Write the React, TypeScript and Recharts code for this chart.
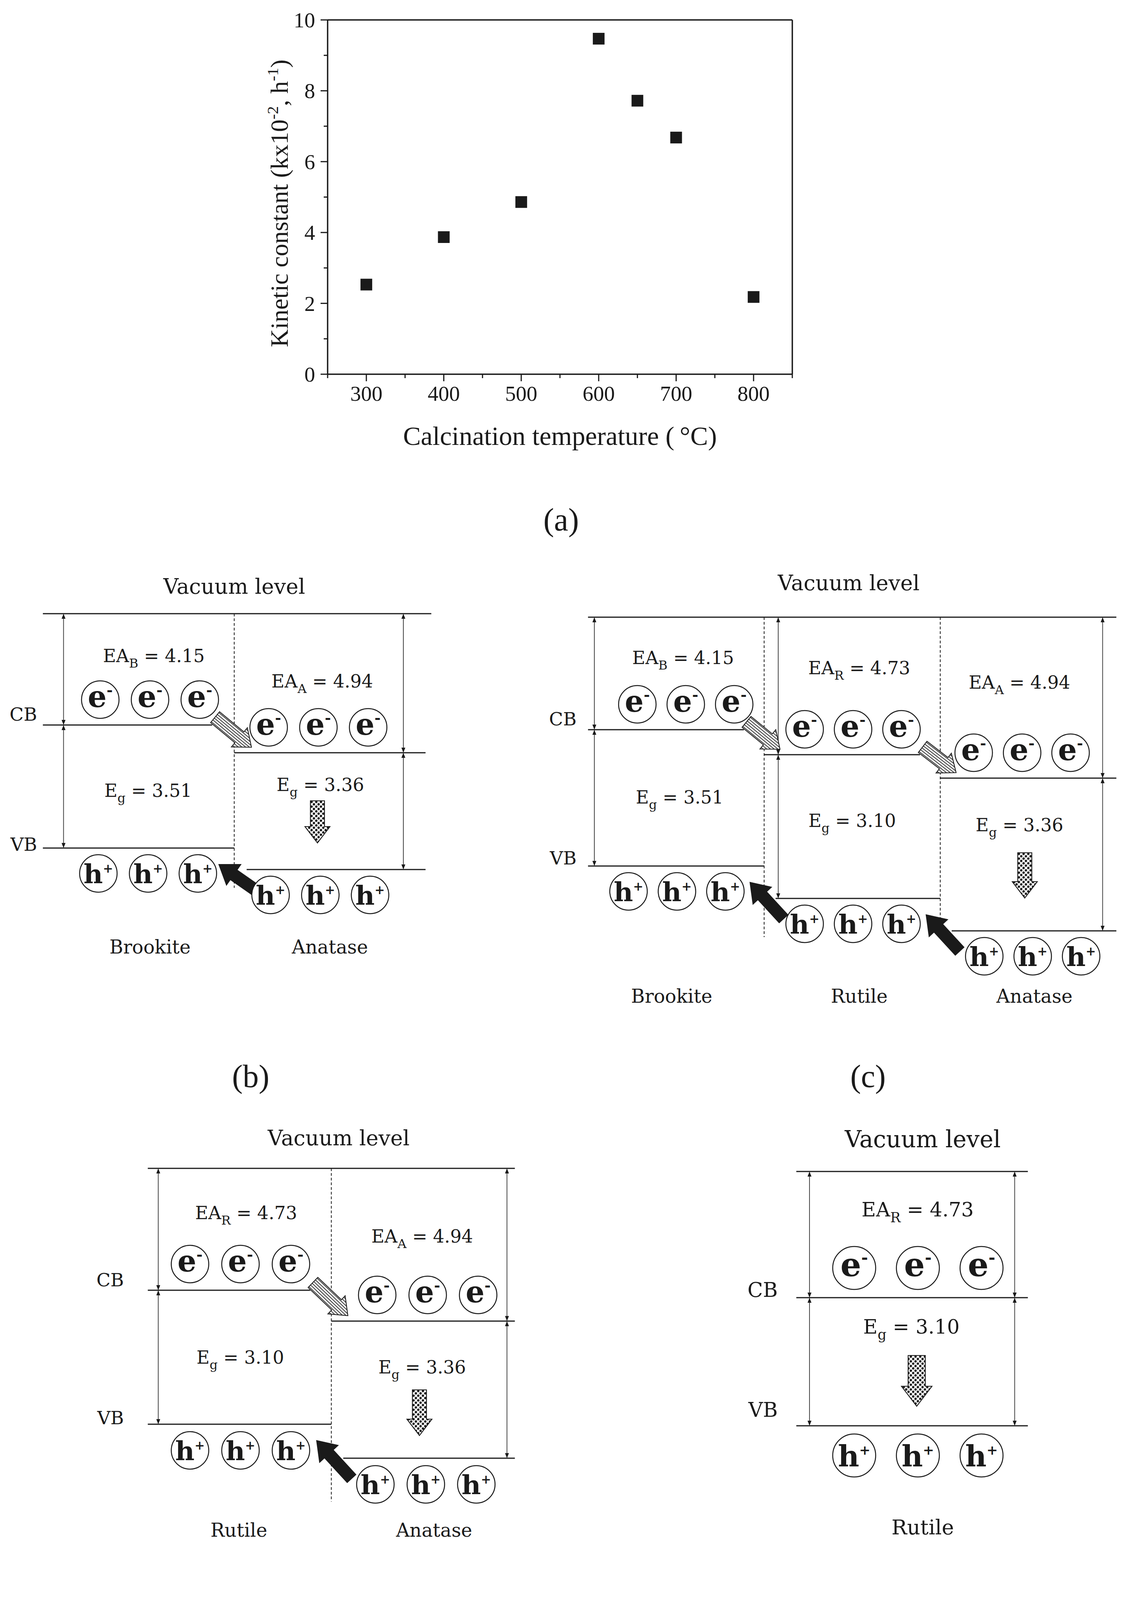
import React from "react";
import {
  ComposedChart,
  ScatterChart,
  Scatter,
  XAxis,
  YAxis,
  ReferenceLine,
  Label,
} from "recharts";

const INK = "#1a1a1a";
const SERIF_A = '"Liberation Serif", "Times New Roman", serif';
const SERIF_B = '"DejaVu Serif", "Liberation Serif", serif';

// ---------- (a) kinetic constant vs calcination temperature ----------
const temperatures = [300, 400, 500, 600, 650, 700, 800];
const kineticConstants = [2.53, 3.87, 4.86, 9.47, 7.72, 6.68, 2.18];
const temperatureTicks = [250, 300, 350, 400, 450, 500, 550, 600, 650, 700, 750, 800, 850];
const temperatureLabels = [300, 400, 500, 600, 700, 800];
const kineticTicks = [0, 1, 2, 3, 4, 5, 6, 7, 8, 9, 10];
const kineticLabels = [0, 2, 4, 6, 8, 10];

// ---------- (b)-(e) band diagrams ----------
const phaseNames = ["Brookite", "Rutile", "Anatase"];
const phaseSubscripts = ["B", "R", "A"];
const electronAffinities = [4.15, 4.73, 4.94]; // eV
const bandGaps = [3.51, 3.1, 3.36]; // eV
const carriersPerBand = 3;

// phases shown in each panel, left to right
const phasesB = [0, 2];
const phasesC = [0, 1, 2];
const phasesD = [1, 2];
const phasesE = [1];

// drawn depth of the band edges below the vacuum level (schematic)
const cbDepthB = [2.85, 3.56];
const vbDepthB = [6.0, 6.55];
const cbDepthC = [2.88, 3.52, 4.12];
const vbDepthC = [6.37, 7.2, 8.03];
const cbDepthD = [3.12, 3.91];
const vbDepthD = [6.55, 7.42];
const cbDepthE = [3.23];
const vbDepthE = [6.51];

// ---------- layout (kept apart from the data) ----------
const Y_MIN = -1.3;
const Y_MAX = 12.5;
const UNIT_PX = 100;

const layoutB = {
  vacX: 110, vacY: 1571, colW: 490, xMin: -0.22, xMax: 2.15, vacEnd: 2.03,
  sideX: -0.03, cbLabelDy: -0.28, vbLabelDy: -0.1,
  titleX: 1.0, titleY: -0.7, tagX: 1.086, tagY: 11.91,
  phaseX: [0.56, 0.5], phaseBase: 8.7,
  dividers: [{ x: 1, bottom: 7.02 }],
  arrowsX: [{ col: 0, x: 0.108 }, { col: 1, x: 1.884 }],
  spacing: 0.26, carrierGap: 0.65, radius: 48, scale: 1, downScale: 1,
  cols: [
    { eaX: 0.58, eaBase: 1.24, egX: 0.55, egBase: 4.69, e0: 0.3, h0: 0.29 },
    { eaX: 0.46, eaBase: 1.89, egX: 0.45, egBase: 4.54, e0: 0.18, h0: 0.19, down: { x: 0.435, top: 4.79, bottom: 5.87 } },
  ],
};

const layoutC = {
  vacX: 1506, vacY: 1580, colW: 451, xMin: -0.35, xMax: 3.08, vacEnd: 3.0,
  sideX: -0.065, cbLabelDy: -0.28, vbLabelDy: -0.21,
  titleX: 1.48, titleY: -0.88, tagX: 1.59, tagY: 11.82,
  phaseX: [0.475, 0.54, 0.535], phaseBase: 9.87,
  dividers: [{ x: 1, bottom: 8.19 }, { x: 2, bottom: 7.82 }],
  arrowsX: [{ col: 0, x: 0.036 }, { col: 1, x: 1.08 }, { col: 2, x: 2.922 }],
  spacing: 0.275, carrierGap: 0.65, radius: 48, scale: 1, downScale: 1,
  cols: [
    { eaX: 0.54, eaBase: 1.2, egX: 0.52, egBase: 4.77, e0: 0.28, h0: 0.23 },
    { eaX: 0.54, eaBase: 1.46, egX: 0.5, egBase: 5.37, e0: 0.23, h0: 0.23 },
    { eaX: 0.45, eaBase: 1.83, egX: 0.45, egBase: 5.48, e0: 0.19, h0: 0.25, down: { x: 0.48, top: 6.03, bottom: 7.19 } },
  ],
};

const layoutD = {
  vacX: 378, vacY: 2991, colW: 470, xMin: -0.35, xMax: 2.1, vacEnd: 2.0,
  sideX: -0.13, cbLabelDy: -0.27, vbLabelDy: -0.17,
  titleX: 1.04, titleY: -0.78, tagX: 0.968, tagY: 11.82,
  phaseX: [0.496, 0.56], phaseBase: 9.43,
  dividers: [{ x: 1, bottom: 8.53 }],
  arrowsX: [{ col: 0, x: 0.057 }, { col: 1, x: 1.957 }],
  spacing: 0.275, carrierGap: 0.67, radius: 48, scale: 1, downScale: 1,
  cols: [
    { eaX: 0.536, eaBase: 1.3, egX: 0.504, egBase: 5.0, e0: 0.23, h0: 0.23 },
    { eaX: 0.495, eaBase: 1.9, egX: 0.495, egBase: 5.25, e0: 0.25, h0: 0.24, down: { x: 0.48, top: 5.67, bottom: 6.84 } },
  ],
};

const layoutE = {
  vacX: 2039, vacY: 2999, colW: 593, xMin: -0.25, xMax: 1.1, vacEnd: 1.0,
  sideX: -0.08, cbLabelDy: -0.21, vbLabelDy: -0.42,
  titleX: 0.546, titleY: -0.83, tagX: 0.545, tagY: 11.85,
  phaseX: [0.546], phaseBase: 9.29,
  dividers: [],
  arrowsX: [{ col: 0, x: 0.057 }, { col: 0, x: 0.943 }],
  spacing: 0.275, carrierGap: 0.76, radius: 55, scale: 1.1, downScale: 1.22,
  cols: [
    { eaX: 0.524, eaBase: 1.15, egX: 0.497, egBase: 4.15, e0: 0.25, h0: 0.25, down: { x: 0.52, top: 4.71, bottom: 6.01 } },
  ],
};

// ---------- panel (a) ----------
const TICK_LEN = 18;
const MINOR_LEN = 10;
const TICK_GAP = 14;

function TemperatureTick(props: any) {
  const { x, y, payload } = props;
  const axisY = y - TICK_LEN - TICK_GAP;
  const major = temperatureLabels.includes(payload.value);
  return (
    <g>
      <line x1={x} x2={x} y1={axisY} y2={axisY + (major ? TICK_LEN : MINOR_LEN)} stroke={INK} strokeWidth={3} />
      {major && (
        <text x={x} y={y + 36} textAnchor="middle" fontFamily={SERIF_A} fontSize={55} fill={INK}>
          {payload.value}
        </text>
      )}
    </g>
  );
}

function KineticTick(props: any) {
  const { x, y, payload } = props;
  const axisX = x + TICK_LEN + TICK_GAP;
  const major = kineticLabels.includes(payload.value);
  return (
    <g>
      <line x1={axisX - (major ? TICK_LEN : MINOR_LEN)} x2={axisX} y1={y} y2={y} stroke={INK} strokeWidth={3} />
      {major && (
        <text x={x} y={y + 19} textAnchor="end" fontFamily={SERIF_A} fontSize={55} fill={INK}>
          {payload.value}
        </text>
      )}
    </g>
  );
}

function KineticTitleY(props: any) {
  const vb = props.viewBox || { x: 719, y: 51, width: 120, height: 907 };
  const cx = vb.x - 4;
  const cy = vb.y + vb.height / 2 + 16;
  return (
    <text
      transform={`rotate(-90 ${cx} ${cy})`}
      x={cx}
      y={cy}
      dy="0.35em"
      textAnchor="middle"
      fontFamily={SERIF_A}
      fontSize={64}
      fill={INK}
    >
      Kinetic constant (kx10
      <tspan dy={-25} fontSize={41}>-2</tspan>
      <tspan dy={25}>, h</tspan>
      <tspan dy={-25} fontSize={41}>-1</tspan>
      <tspan dy={25}>)</tspan>
    </text>
  );
}

function KineticTitleX(props: any) {
  const vb = props.viewBox || { x: 839, y: 958, width: 1190, height: 110 };
  const cx = vb.x + vb.width / 2;
  return (
    <g>
      <text x={cx} y={vb.y + 181} textAnchor="middle" fontFamily={SERIF_A} fontSize={68} fill={INK}>
        {"Calcination temperature (\u2009°C)"}
      </text>
      <text x={cx + 3} y={vb.y + 400} textAnchor="middle" fontFamily={SERIF_A} fontSize={82} fill={INK}>
        (a)
      </text>
    </g>
  );
}

const KineticMarker = (p: any) => (
  <rect x={p.cx - 15} y={p.cy - 15} width={30} height={30} fill={INK} />
);

function KineticChart() {
  const data = temperatures.map((t, i) => ({ t, k: kineticConstants[i] }));
  return (
    <ScatterChart width={2881} height={1420} margin={{ top: 51, right: 852, bottom: 352, left: 719 }}>
      <XAxis
        type="number"
        dataKey="t"
        domain={[250, 850]}
        ticks={temperatureTicks}
        interval={0}
        tick={TemperatureTick}
        tickLine={false}
        tickSize={TICK_LEN}
        tickMargin={TICK_GAP}
        axisLine={{ stroke: INK, strokeWidth: 3.5 }}
        height={110}
      >
        <Label content={KineticTitleX} />
      </XAxis>
      <YAxis
        type="number"
        dataKey="k"
        domain={[0, 10]}
        ticks={kineticTicks}
        interval={0}
        tick={KineticTick}
        tickLine={false}
        tickSize={TICK_LEN}
        tickMargin={TICK_GAP}
        axisLine={{ stroke: INK, strokeWidth: 3.5 }}
        width={120}
      >
        <Label content={KineticTitleY} />
      </YAxis>
      <ReferenceLine x={850} stroke={INK} strokeWidth={3.5} ifOverflow="visible" />
      <ReferenceLine y={10} stroke={INK} strokeWidth={3.5} ifOverflow="visible" />
      <Scatter data={data} dataKey="k" shape={KineticMarker} isAnimationActive={false} />
    </ScatterChart>
  );
}

// ---------- band-diagram shapes ----------
function headPoints(tx: number, ty: number, ux: number, uy: number, len: number, half: number) {
  const bx = tx - ux * len;
  const by = ty - uy * len;
  return `${tx},${ty} ${bx - uy * half},${by + ux * half} ${bx + uy * half},${by - ux * half}`;
}

const DoubleArrowShape = (p: any) => {
  const { x1, y1, x2, y2 } = p;
  const L = Math.hypot(x2 - x1, y2 - y1) || 1;
  const ux = (x2 - x1) / L;
  const uy = (y2 - y1) / L;
  const hl = 13;
  return (
    <g>
      <line x1={x1 + ux * hl} y1={y1 + uy * hl} x2={x2 - ux * hl} y2={y2 - uy * hl} stroke="#444" strokeWidth={2} />
      <polygon points={headPoints(x1, y1, -ux, -uy, hl, 5)} fill={INK} />
      <polygon points={headPoints(x2, y2, ux, uy, hl, 5)} fill={INK} />
    </g>
  );
};

function makeBlockArrow(shaft: number, head: number, headLen: number, fill: string, stroke: string) {
  return (p: any) => {
    const { x1, y1, x2, y2 } = p;
    const L = Math.hypot(x2 - x1, y2 - y1);
    const deg = (Math.atan2(y2 - y1, x2 - x1) * 180) / Math.PI;
    const s = shaft / 2;
    const h = head / 2;
    const b = L - headLen;
    const pts = `0,${-s} ${b},${-s} ${b},${-h} ${L},0 ${b},${h} ${b},${s} 0,${s}`;
    return (
      <g transform={`translate(${x1},${y1}) rotate(${deg})`}>
        <polygon points={pts} fill={fill} stroke={stroke} strokeWidth={2.2} strokeLinejoin="miter" />
      </g>
    );
  };
}

const HatchedArrow = makeBlockArrow(36, 64, 40, "url(#hatchFill)", "#222");
const BlackArrow = makeBlockArrow(30, 64, 46, INK, INK);

function makeCarrierShape(kind: string, r: number, s: number) {
  return (p: any) => {
    const { cx, cy } = p;
    const fs = (kind === "e" ? 76 : 68) * s;
    return (
      <g>
        <circle cx={cx} cy={cy} r={r} fill="#fff" stroke={INK} strokeWidth={2.5} />
        {kind === "e" ? (
          <text x={cx} y={cy + 0.25 * fs} textAnchor="middle" fontFamily={SERIF_B} fontWeight="bold" fontSize={fs} fill={INK}>
            e<tspan dy={-0.4 * fs} fontSize={0.5 * fs}>-</tspan>
          </text>
        ) : (
          <text x={cx} y={cy + 0.37 * fs} textAnchor="middle" fontFamily={SERIF_B} fontWeight="bold" fontSize={fs} fill={INK}>
            h<tspan dy={-0.4 * fs} fontSize={0.46 * fs}>+</tspan>
          </text>
        )}
      </g>
    );
  };
}

function makeLabelShape(s: number) {
  return (p: any) => {
    const { cx, cy, payload: d } = p;
    if (d.kind === "title") {
      return (
        <text x={cx} y={cy} dy="0.36em" textAnchor="middle" fontFamily={SERIF_B} fontSize={54 * s} fill={INK}>
          {d.text}
        </text>
      );
    }
    if (d.kind === "side") {
      return (
        <text x={cx} y={cy} dy="0.36em" textAnchor="end" fontFamily={SERIF_B} fontSize={47 * s} fill={INK}>
          {d.text}
        </text>
      );
    }
    if (d.kind === "sub") {
      const fs = 46 * s;
      return (
        <text x={cx} y={cy} textAnchor="middle" fontFamily={SERIF_B} fontSize={fs} fill={INK}>
          {d.main}
          <tspan dy={0.3 * fs} fontSize={0.7 * fs}>{d.sub}</tspan>
          <tspan dy={-0.3 * fs}>{" = " + d.value}</tspan>
        </text>
      );
    }
    if (d.kind === "phase") {
      return (
        <text x={cx} y={cy} textAnchor="middle" fontFamily={SERIF_B} fontSize={48 * s} fill={INK}>
          {d.text}
        </text>
      );
    }
    return (
      <text x={cx} y={cy} dy="0.26em" textAnchor="middle" fontFamily={SERIF_A} fontSize={82} fill={INK}>
        {d.text}
      </text>
    );
  };
}

function BandPanel({ tag, phases, cb, vb, lay }: any) {
  const n = phases.length;
  const width = (lay.xMax - lay.xMin) * lay.colW;
  const height = (Y_MAX - Y_MIN) * UNIT_PX;
  const left = lay.vacX + lay.xMin * lay.colW;
  const top = lay.vacY + Y_MIN * UNIT_PX;
  const s = lay.scale;

  const levels: any[] = [{ x1: 0, x2: lay.vacEnd, y: 0 }];
  phases.forEach((_: number, i: number) => {
    levels.push({ x1: i, x2: i < n - 1 ? i + 0.885 : i + 1, y: cb[i] });
    levels.push({ x1: i > 0 ? i + 0.065 : i, x2: i + 1, y: vb[i] });
  });

  const spans: any[] = [];
  lay.arrowsX.forEach((a: any) => {
    spans.push({ x: a.x, top: 0, bottom: cb[a.col] });
    spans.push({ x: a.x, top: cb[a.col], bottom: vb[a.col] });
  });

  const transfers: any[] = [];
  for (let i = 0; i < n - 1; i++) {
    transfers.push({
      e: [{ x: i + 0.9, y: cb[i] - 0.2 }, { x: i + 1.09, y: cb[i + 1] - 0.14 }],
      h: [{ x: i + 1.11, y: vb[i + 1] + 0.52 }, { x: i + 0.92, y: vb[i] + 0.42 }],
    });
  }

  const downs = lay.cols
    .map((c: any, i: number) => (c.down ? { x: i + c.down.x, top: c.down.top, bottom: c.down.bottom } : null))
    .filter(Boolean);

  const electrons: any[] = [];
  const holes: any[] = [];
  phases.forEach((_: number, i: number) => {
    for (let k = 0; k < carriersPerBand; k++) {
      electrons.push({ x: i + lay.cols[i].e0 + k * lay.spacing, y: cb[i] - lay.carrierGap });
      holes.push({ x: i + lay.cols[i].h0 + k * lay.spacing, y: vb[i] + lay.carrierGap });
    }
  });

  const labels: any[] = [
    { x: lay.titleX, y: lay.titleY, kind: "title", text: "Vacuum level" },
    { x: lay.sideX, y: cb[0] + lay.cbLabelDy, kind: "side", text: "CB" },
    { x: lay.sideX, y: vb[0] + lay.vbLabelDy, kind: "side", text: "VB" },
    { x: lay.tagX, y: lay.tagY, kind: "tag", text: `(${tag})` },
  ];
  phases.forEach((p: number, i: number) => {
    const c = lay.cols[i];
    labels.push({ x: i + c.eaX, y: c.eaBase, kind: "sub", main: "EA", sub: phaseSubscripts[p], value: electronAffinities[p].toFixed(2) });
    labels.push({ x: i + c.egX, y: c.egBase, kind: "sub", main: "E", sub: "g", value: bandGaps[p].toFixed(2) });
    labels.push({ x: i + lay.phaseX[i], y: lay.phaseBase, kind: "phase", text: phaseNames[p] });
  });

  const ds = lay.downScale;
  const DottedArrow = makeBlockArrow(36 * ds, 64 * ds, 42 * ds, "url(#dotFill)", INK);

  return (
    <div style={{ position: "absolute", left, top }}>
      <ComposedChart width={width} height={height} margin={{ top: 0, right: 0, bottom: 0, left: 0 }}>
        <XAxis type="number" dataKey="x" domain={[lay.xMin, lay.xMax]} hide />
        <YAxis type="number" dataKey="y" domain={[Y_MIN, Y_MAX]} reversed hide />
        {levels.map((l, i) => (
          <ReferenceLine
            key={`lv${i}`}
            segment={[{ x: l.x1, y: l.y }, { x: l.x2, y: l.y }]}
            stroke={INK}
            strokeWidth={3.2}
            ifOverflow="visible"
          />
        ))}
        {lay.dividers.map((d: any, i: number) => (
          <ReferenceLine
            key={`dv${i}`}
            segment={[{ x: d.x, y: 0 }, { x: d.x, y: d.bottom }]}
            stroke={INK}
            strokeWidth={2}
            strokeDasharray="7 5"
            ifOverflow="visible"
          />
        ))}
        {spans.map((a, i) => (
          <ReferenceLine
            key={`sp${i}`}
            segment={[{ x: a.x, y: a.top }, { x: a.x, y: a.bottom }]}
            shape={DoubleArrowShape}
            ifOverflow="visible"
          />
        ))}
        {transfers.map((t, i) => (
          <ReferenceLine key={`te${i}`} segment={t.e} shape={HatchedArrow} ifOverflow="visible" />
        ))}
        {transfers.map((t, i) => (
          <ReferenceLine key={`th${i}`} segment={t.h} shape={BlackArrow} ifOverflow="visible" />
        ))}
        {downs.map((d: any, i: number) => (
          <ReferenceLine
            key={`dn${i}`}
            segment={[{ x: d.x, y: d.top }, { x: d.x, y: d.bottom }]}
            shape={DottedArrow}
            ifOverflow="visible"
          />
        ))}
        <Scatter data={electrons} dataKey="y" shape={makeCarrierShape("e", lay.radius, s)} isAnimationActive={false} />
        <Scatter data={holes} dataKey="y" shape={makeCarrierShape("h", lay.radius, s)} isAnimationActive={false} />
        <Scatter data={labels} dataKey="y" shape={makeLabelShape(s)} isAnimationActive={false} />
      </ComposedChart>
    </div>
  );
}

export default function App() {
  return (
    <div
      style={{
        position: "absolute",
        left: 0,
        top: 0,
        width: 2881,
        height: 4255,
        background: "#fff",
        overflow: "hidden",
      }}
    >
      <svg width={0} height={0} style={{ position: "absolute" }}>
        <defs>
          <pattern id="hatchFill" width={10} height={6} patternUnits="userSpaceOnUse">
            <rect width={10} height={6} fill="#fff" />
            <line x1={0} y1={3} x2={10} y2={3} stroke="#333" strokeWidth={2} />
          </pattern>
          <pattern id="dotFill" width={12} height={12} patternUnits="userSpaceOnUse">
            <rect width={12} height={12} fill="#fff" />
            <circle cx={3} cy={3} r={3.1} fill={INK} />
            <circle cx={9} cy={9} r={3.1} fill={INK} />
          </pattern>
        </defs>
      </svg>
      <div style={{ position: "absolute", left: 0, top: 0 }}>
        <KineticChart />
      </div>
      <BandPanel tag="b" phases={phasesB} cb={cbDepthB} vb={vbDepthB} lay={layoutB} />
      <BandPanel tag="c" phases={phasesC} cb={cbDepthC} vb={vbDepthC} lay={layoutC} />
      <BandPanel tag="d" phases={phasesD} cb={cbDepthD} vb={vbDepthD} lay={layoutD} />
      <BandPanel tag="e" phases={phasesE} cb={cbDepthE} vb={vbDepthE} lay={layoutE} />
    </div>
  );
}
